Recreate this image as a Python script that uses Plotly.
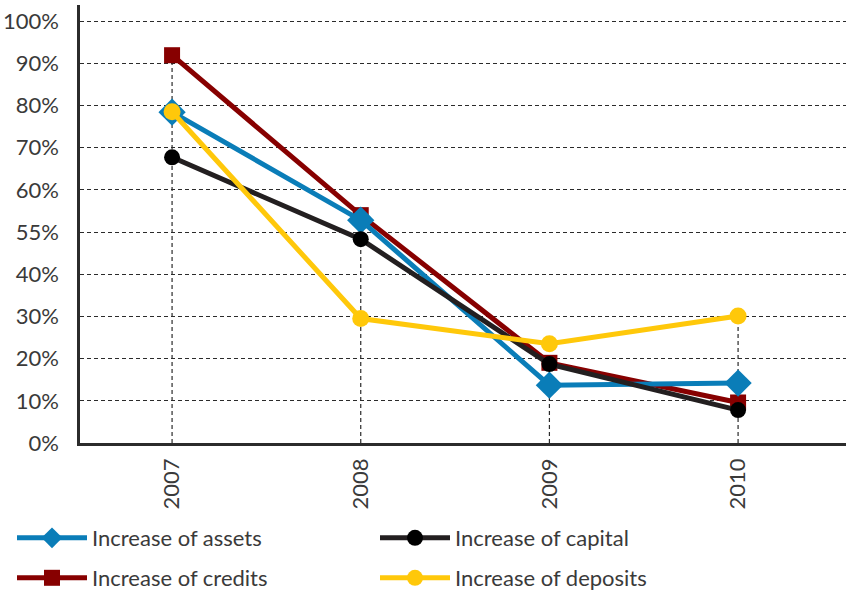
import plotly.graph_objects as go

# Yearly growth rates (%)
years = ["2007", "2008", "2009", "2010"]
assets = [78.4, 52.8, 13.7, 14.2]
capital = [67.7, 48.3, 18.7, 7.8]
credits = [91.9, 54.0, 19.0, 9.6]
deposits = [78.5, 29.5, 23.5, 30.1]

y_tickvals = [0, 10, 20, 30, 40, 50, 60, 70, 80, 90, 100]
y_ticktext = ["0%", "10%", "20%", "30%", "40%", "55%", "60%", "70%", "80%", "90%", "100%"]

FONT = "Lato"
TEXT = "#3a3a3a"
AXIS = "#2b2b2b"

xs = list(range(len(years)))

fig = go.Figure()

# dashed drop lines from each year's highest value down to the axis
drop_x, drop_y = [], []
for i in xs:
    top = max(assets[i], capital[i], credits[i], deposits[i])
    drop_x += [i, i, None]
    drop_y += [0, top, None]
fig.add_trace(go.Scatter(
    x=drop_x, y=drop_y, mode="lines",
    line=dict(color=AXIS, width=1.2, dash="4px,3px"),
    showlegend=False, hoverinfo="skip"))

series = [
    ("Increase of credits", credits, "#870000", "#870000", "square", 16, "legend2", 1),
    ("Increase of assets", assets, "#0A7DB8", "#0A7DB8", "diamond", 21, "legend", 1),
    ("Increase of capital", capital, "#231F20", "#000000", "circle", 16, "legend", 2),
    ("Increase of deposits", deposits, "#FFC80A", "#FFC80A", "circle", 17, "legend2", 2),
]
for name, vals, lc, mc, sym, size, leg, rank in series:
    fig.add_trace(go.Scatter(
        x=xs, y=vals, name=name, mode="lines+markers",
        line=dict(color=lc, width=5),
        marker=dict(color=mc, symbol=sym, size=size, line=dict(width=0)),
        legend=leg, legendrank=rank))

legend_common = dict(
    orientation="h", xref="container", yref="container",
    x=12 / 846, xanchor="left", yanchor="middle",
    font=dict(family=FONT, size=22, color=TEXT),
    entrywidth=278, entrywidthmode="pixels",
    itemwidth=70, bgcolor="rgba(0,0,0,0)", traceorder="normal",
)

fig.update_layout(
    width=846, height=593,
    margin=dict(l=80, r=0, t=5, b=150),
    paper_bgcolor="white", plot_bgcolor="white",
    font=dict(family=FONT, color=TEXT),
    legend=dict(y=1 - 538 / 593, **legend_common),
    legend2=dict(y=1 - 578 / 593, **legend_common),
    xaxis=dict(
        range=[-0.488, 3.572], tickvals=xs, ticktext=years,
        tickangle=-90, showgrid=False, zeroline=False,
        showline=True, linecolor=AXIS, linewidth=2.5,
        ticks="", ticklabelstandoff=4,
        tickfont=dict(family=FONT, size=22, color=TEXT),
    ),
    yaxis=dict(
        range=[0, 103.8], tickvals=y_tickvals, ticktext=y_ticktext,
        showgrid=True, gridcolor=AXIS, gridwidth=1, griddash="4px,3px",
        zeroline=False, showline=True, linecolor=AXIS, linewidth=2.5,
        ticks="", ticklabelstandoff=14,
        tickfont=dict(family=FONT, size=22, color=TEXT),
    ),
)

fig.write_html("out.html")
